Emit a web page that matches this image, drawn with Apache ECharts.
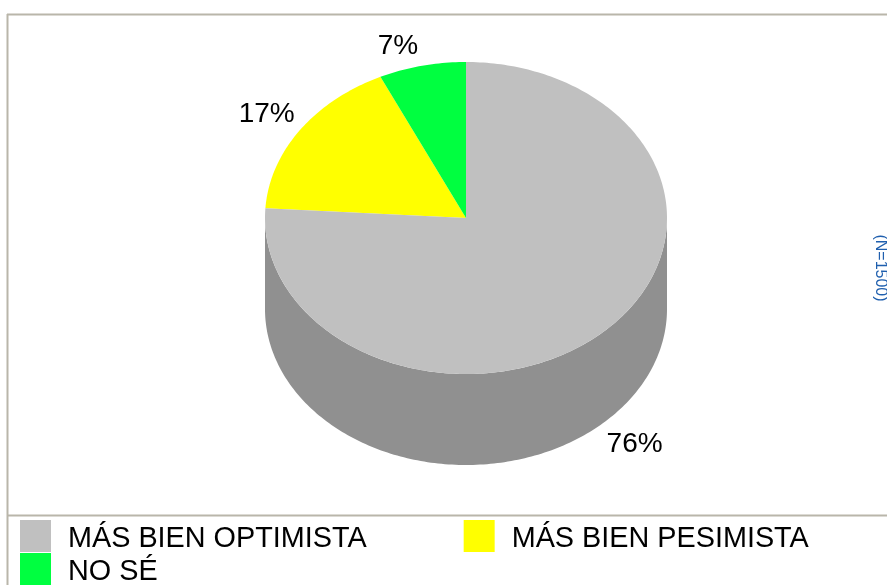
<!DOCTYPE html>
<html>
<head>
<meta charset="utf-8">
<title>Pie</title>
<script src="https://cdn.jsdelivr.net/npm/echarts@6/dist/echarts.min.js"></script>
<style>
  html, body { margin: 0; padding: 0; background: #fff; overflow: hidden; }
  #chart { width: 887px; height: 585px; }
</style>
</head>
<body>
<div id="chart"></div>
<script>
// valores
const categories = ['MÁS BIEN OPTIMISTA', 'MÁS BIEN PESIMISTA', 'NO SÉ'];
const values = [76, 17, 7];
const colors = ['#c0c0c0', '#ffff00', '#00ff40'];
const wallColors = ['#909090', '#909000', '#009028'];
const sampleNote = '(N=1500)';

const total = values.reduce((a, b) => a + b, 0);
const starts = values.map((v, i) => values.slice(0, i).reduce((a, b) => a + b, 0));

// tarta oblicua: elipse + pared
const cx = 466, cy = 218, rx = 201, ry = 156, depth = 91;
const frameColor = '#b9b6aa';
const font = '"Liberation Sans", Arial, sans-serif';
// ajuste fino de cada etiqueta respecto al borde
const labelNudge = [[0, 0], [-2, 5], [-1, 2]];

// angulo en grados, desde las 12 en sentido horario
function rimPoint(deg, dy) {
    const a = deg * Math.PI / 180;
    return [cx + rx * Math.sin(a), cy - ry * Math.cos(a) + (dy || 0)];
}

function arcPoints(from, to, dy) {
    const pts = [];
    const n = Math.max(2, Math.ceil(Math.abs(to - from)));
    for (let i = 0; i <= n; i++) {
        pts.push(rimPoint(from + (to - from) * i / n, dy));
    }
    return pts;
}

function renderSlice(index) {
    return function (params, api) {
        const from = starts[index] / total * 360;
        const to = from + api.value(0) / total * 360;
        const mid = (from + to) / 2;
        const children = [];

        // pared, solo la mitad delantera se ve
        const wallFrom = Math.max(from, 90);
        const wallTo = Math.min(to, 270);
        if (wallTo > wallFrom) {
            children.push({
                type: 'polygon',
                shape: { points: arcPoints(wallFrom, wallTo, 0).concat(arcPoints(wallTo, wallFrom, depth)) },
                style: { fill: wallColors[index] }
            });
        }

        children.push({
            type: 'polygon',
            shape: { points: [[cx, cy]].concat(arcPoints(from, to, 0)) },
            style: { fill: api.visual('color') }
        });

        const front = mid > 90 && mid < 270;
        const right = mid < 180;
        const anchor = rimPoint(mid, front ? depth : 0);
        children.push({
            type: 'text',
            z2: 10,
            style: {
                text: api.value(0) + '%',
                x: anchor[0] + (right ? 3 : -3) + labelNudge[index][0],
                y: anchor[1] + (front ? 8 : -7) + labelNudge[index][1],
                align: right ? 'left' : 'right',
                verticalAlign: front ? 'top' : 'bottom',
                fill: '#000',
                font: '28px ' + font
            }
        });
        return { type: 'group', children: children };
    };
}

const chart = echarts.init(document.getElementById('chart'));

const legendBase = {
    orient: 'horizontal',
    left: 20,
    padding: 0,
    icon: 'rect',
    itemWidth: 31,
    itemHeight: 32,
    selectedMode: false,
    // linea vacia arriba para bajar el texto respecto al cuadrado
    formatter: name => '{s| }\n{t|' + name + '}',
    textStyle: {
        rich: {
            s: { fontSize: 1, lineHeight: 6 },
            t: { color: '#000', fontFamily: font, fontSize: 28.8, lineHeight: 33, padding: [0, 0, 0, 12] }
        }
    }
};

chart.setOption({
    animation: false,
    backgroundColor: '#fff',
    legend: [
        Object.assign({}, legendBase, { top: 519, itemGap: 97, data: categories.slice(0, 2) }),
        Object.assign({}, legendBase, { top: 552, data: categories.slice(2) })
    ],
    graphic: [
        { type: 'line', shape: { x1: 7.5, y1: 14, x2: 7.5, y2: 585 }, style: { stroke: frameColor, lineWidth: 2 } },
        { type: 'line', shape: { x1: 7, y1: 14.5, x2: 887, y2: 14.5 }, style: { stroke: frameColor, lineWidth: 2 } },
        { type: 'line', shape: { x1: 7, y1: 515.5, x2: 887, y2: 515.5 }, style: { stroke: frameColor, lineWidth: 2 } },
        {
            type: 'text',
            x: 880,
            y: 268,
            rotation: -Math.PI / 2,
            style: { text: sampleNote, fill: '#1f5fae', font: '16px ' + font, align: 'center', verticalAlign: 'middle' }
        }
    ],
    series: categories.map((name, i) => ({
        type: 'custom',
        name: name,
        coordinateSystem: 'none',
        silent: true,
        z: i === 0 ? 3 : 2,
        itemStyle: { color: colors[i] },
        renderItem: renderSlice(i),
        data: [[values[i]]]
    }))
});
</script>
</body>
</html>
